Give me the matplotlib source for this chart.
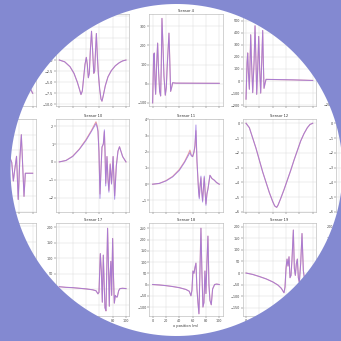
import numpy as np
import matplotlib
matplotlib.use("Agg")
import matplotlib.pyplot as plt
from matplotlib.path import Path
from matplotlib.patches import PathPatch

# values: x position (m) and sensor response
s2_x = [0, 20, 40, 60, 70, 80, 90, 100]
s2_y = [0, -0.5, -1.5, -3.0, -5.0, -2.0, -6.0, -8.0]

s3_x = [0, 8, 16, 22, 27, 30, 32.5, 34.5, 36.5, 38.5, 40.5, 42, 43.5, 45, 46.5,
        48.3, 50, 51.7, 53, 54.3, 55.6, 57, 58.5, 60.5, 62.5, 64, 66, 69, 73,
        78, 84, 90, 95, 100]
s3_y = [0, -0.4, -1.5, -3.0, -5.0, -6.5, -7.8, -7.0, -4.0, -1.0, 0.6, -1.0,
        -4.0, -3.0, 2.0, 6.5, 2.0, -3.0, -2.5, 2.0, 6.0, 1.0, -3.0, -6.5, -8.8,
        -9.3, -8.0, -5.8, -3.8, -2.4, -1.3, -0.6, -0.2, 0]

s4_x = [0, 1.5, 2.5, 3.5, 4.5, 6, 7.5, 9, 10.5, 12, 13, 14, 15.5, 17, 19, 20.5,
        22, 24.5, 25.5, 27, 28.5, 30, 35, 100]
s4_y = [-100, 150, 160, 20, -55, 100, 212, 60, -40, -64, 100, 341, 200, 40,
        -60, -20, 100, 264, 150, -40, -20, 5, 3, 2]

s5_x = [0, 1.5, 2.5, 3.5, 5, 6, 7, 8, 10, 12, 13.5, 15, 16, 17.5, 19, 20.5, 22,
        23.5, 25, 26, 27, 28.5, 30, 50, 70, 100]
s5_y = [-150, 150, 233, 80, -68, 150, 384, 200, -96, 150, 458, 150, -110, 100,
        370, 100, -100, 150, 419, 150, -60, -20, 14, 12, 10, 5]

s6_x = [0, 20, 40, 60, 80, 100]
s6_y = [0, 5, 3, 2, 1, 0]

s9_x = [0, 20, 40, 55, 62, 66, 68.6, 71, 73, 75.8, 78.3, 80.7, 83, 85, 87, 89,
        93, 100]
s9_y = [0, 0.2, 0.6, 1.2, 1.5, 0.5, 0.2, -1.0, -0.3, 0.6, -2.2, 0.4, 2.0, 0,
        -2.0, -0.5, -0.5, -0.5]

s10_x = [0, 10, 20, 30, 40, 48, 55, 57, 58, 59.5, 61, 62.5, 64, 66, 67.6, 68.6,
         69.6, 71.5, 73, 74.4, 76.3, 78.3, 80.7, 83, 85.5, 88, 90.3, 95, 100]
s10_y = [0, 0.08, 0.3, 0.7, 1.2, 1.7, 2.15, 1.9, 1.7, 0.5, -2.05, -0.5, 0.85,
         1.0, 1.8, 0.5, -1.35, 0.3, -1.0, -1.7, -0.15, -1.25, 0.3, -2.1, -0.25,
         0.6, 0.85, 0.3, 0]
s10_ref = [0, 0.08, 0.32, 0.72, 1.25, 1.75, 2.25, 2.0, 1.75, 0.6, -1.8, -0.4,
           0.8, 1.0, 1.7, 0.5, -1.2, 0.3, -0.9, -1.6, -0.1, -1.2, 0.3, -1.9,
           -0.2, 0.6, 0.85, 0.3, 0]

s11_x = [0, 10, 20, 30, 40, 48, 54, 56, 58, 60, 62, 63.5, 65, 66.5, 68, 69, 70,
         71, 72.5, 73.5, 75, 76.3, 77.5, 78.7, 80, 81.5, 83, 86, 89, 92.5, 96,
         100]
s11_y = [0, 0.05, 0.2, 0.45, 0.85, 1.35, 1.8, 1.95, 1.75, 1.7, 2.0, 2.4, 3.65,
         1.5, 0.3, -0.5, -0.9, -0.2, 0.5, -0.4, -1.1, -0.2, 0.5, -0.5, -1.3,
         -0.6, -0.3, 0.55, 0.35, 0.25, 0.1, 0]
s11_ref = [0, 0.05, 0.22, 0.48, 0.9, 1.4, 1.9, 2.1, 1.8, 1.7, 1.95, 2.3, 3.3,
           1.4, 0.3, -0.4, -0.8, -0.2, 0.4, -0.3, -1.0, -0.2, 0.4, -0.4, -1.2,
           -0.6, -0.3, 0.55, 0.35, 0.25, 0.1, 0]

s12_x = [0, 5, 10, 15, 20, 25, 30, 35, 40, 43, 46, 48, 52, 57, 62, 67, 72, 77,
         82, 87, 92, 96, 100]
s12_y = [0, -0.3, -1.0, -1.7, -2.5, -3.3, -4.0, -4.7, -5.3, -5.6, -5.7, -5.55,
         -5.1, -4.5, -3.85, -3.2, -2.5, -1.85, -1.2, -0.7, -0.3, -0.08, 0]

s13_x = [0, 10, 20, 30, 40, 50, 60, 70, 80, 90, 100]
s13_y = [0, -0.9, -2.3, -3.8, -5.0, -5.6, -4.8, -3.3, -1.8, -0.6, 0]

s16_x = [0, 20, 40, 60, 80, 100]
s16_y = [0, 2, 4, 10, -20, 0]

s17_x = [0, 10, 20, 30, 40, 50, 55, 58, 59.5, 61.5, 63, 64.5, 66, 67, 68.5, 70,
         71, 72.4, 73.5, 75, 76, 77.3, 78.5, 80, 81, 82.5, 84, 85.5, 87, 89, 91,
         95, 100]
s17_y = [8, 6, 5, 3, 1, -2, -5, -15, -10, 115, 60, -42, 110, 40, -60, -70, 40,
         197, 100, -55, 40, 90, -20, 164, 60, -45, -20, -25, -25, -5, 2, 3, 2]

s18_x = [0, 10, 20, 30, 40, 50, 55, 57.5, 59, 60.5, 62, 63.5, 65, 66.5, 68,
         69.5, 71, 72.5, 74, 75.5, 77, 78.5, 80, 81.5, 83, 84.5, 86, 88, 90, 93,
         96, 100]
s18_y = [0, -2, -5, -9, -14, -22, -30, -50, -25, 60, 50, 75, 95, -20, -80,
         -130, 60, 250, 50, -100, -80, 60, -40, 100, 215, 0, -70, -90, -20, 0,
         2, 0]

s19_x = [0, 10, 20, 30, 40, 48, 53, 57, 58.5, 60, 61.5, 63, 64.5, 66, 67.5, 69,
         71, 72.5, 74, 75.5, 77, 78.5, 80, 82, 84, 86, 88, 90, 94, 100]
s19_y = [0, -6, -15, -25, -38, -52, -66, -85, -60, 20, 60, 30, 70, -20, -10, 60,
         185, 20, -10, 40, 60, -20, -40, 40, 170, 10, -30, -15, -5, 0]

s20_x = [0, 20, 40, 60, 70, 80, 100]
s20_y = [0, -10, -25, -50, 120, -40, 0]

grid_ids = [[2, 3, 4, 5, 6],
            [9, 10, 11, 12, 13],
            [16, 17, 18, 19, 20]]

series = {
    2: (s2_x, s2_y, s2_y), 3: (s3_x, s3_y, s3_y), 4: (s4_x, s4_y, s4_y),
    5: (s5_x, s5_y, s5_y), 6: (s6_x, s6_y, s6_y), 9: (s9_x, s9_y, s9_y),
    10: (s10_x, s10_y, s10_ref), 11: (s11_x, s11_y, s11_ref),
    12: (s12_x, s12_y, s12_y), 13: (s13_x, s13_y, s13_y),
    16: (s16_x, s16_y, s16_y), 17: (s17_x, s17_y, s17_y),
    18: (s18_x, s18_y, s18_y), 19: (s19_x, s19_y, s19_y),
    20: (s20_x, s20_y, s20_y),
}

# axis limits / ticks per sensor
ylims = {2: (-10, 4), 3: (-10.5, 10.4), 4: (-119, 364), 5: (-211, 556),
         6: (-220, 540), 9: (-3, 3), 10: (-2.8, 2.39), 11: (-1.7, 4.0),
         12: (-6.0, 0.27), 13: (-6.0, 0.27), 16: (-90, 210), 17: (-86, 213),
         18: (-139, 272), 19: (-184, 214), 20: (-184, 214)}
ysteps = {2: 2, 3: 2.5, 4: 100, 5: 100, 6: 100, 9: 1, 10: 1, 11: 1, 12: 1,
          13: 1, 16: 50, 17: 50, 18: 50, 19: 50, 20: 50}

bg = "#8389d1"
purple = "#9470e2"
red = "#d8606a"

W = 341.0
col_left = [-37.3, 56, 149.3, 242.7, 336]
row_top = [14, 119.3, 223.3]
ax_w, ax_h = 73.3, 92.5

fig = plt.figure(figsize=(3.41, 3.41), dpi=100)
fig.patch.set_facecolor("white")

for r, row in enumerate(grid_ids):
    for c, sid in enumerate(row):
        ax = fig.add_axes([col_left[c] / W, 1 - (row_top[r] + ax_h) / W,
                           ax_w / W, ax_h / W])
        x, y, ref = series[sid]
        ax.plot(x, ref, color=red, lw=0.8, alpha=0.6)
        ax.plot(x, y, color=purple, lw=0.7, alpha=0.75)
        ax.set_xlim(-5, 105)
        lo, hi = ylims[sid]
        ax.set_ylim(lo, hi)
        st = ysteps[sid]
        ax.set_yticks(np.arange(np.ceil(lo / st) * st, hi + 1e-9, st))
        ax.set_xticks([0, 20, 40, 60, 80, 100])
        ax.grid(True, color="#dcdcdc", lw=0.35)
        ax.tick_params(labelsize=2.4, length=1.2, width=0.3, pad=0.8,
                       colors="#444444")
        for sp in ax.spines.values():
            sp.set_linewidth(0.4)
            sp.set_color("#b0b0b0")
        # outer columns sit mostly off the canvas / behind the mask
        if c in (1, 2, 3):
            ax.set_title(f"Sensor {sid}", fontsize=2.6, pad=1.5,
                         color="#333333")
        if c == 0:
            ax.tick_params(labelleft=False)
        if r < 2 or c in (0, 4):
            ax.tick_params(labelbottom=False)
        else:
            ax.set_xlabel("x position (m)", fontsize=2.6, labelpad=1,
                          color="#333333")

# circular window
cx, cy, rad = 176.5 / W, 1 - 170 / W, 166 / W
t = np.linspace(0, -2 * np.pi, 240)
ring = np.column_stack([cx + rad * np.cos(t), cy + rad * np.sin(t)])
verts = [(-0.01, -0.01), (1.01, -0.01), (1.01, 1.01), (-0.01, 1.01), (-0.01, -0.01)]
verts += ring.tolist() + [ring[0].tolist()]
codes = [Path.MOVETO] + [Path.LINETO] * 3 + [Path.CLOSEPOLY]
codes += [Path.MOVETO] + [Path.LINETO] * (len(ring) - 1) + [Path.CLOSEPOLY]
mask = PathPatch(Path(verts, codes), transform=fig.transFigure,
                 facecolor=bg, edgecolor="none", zorder=100)
fig.add_artist(mask)

fig.savefig("out.png", dpi=100, facecolor=fig.get_facecolor())
